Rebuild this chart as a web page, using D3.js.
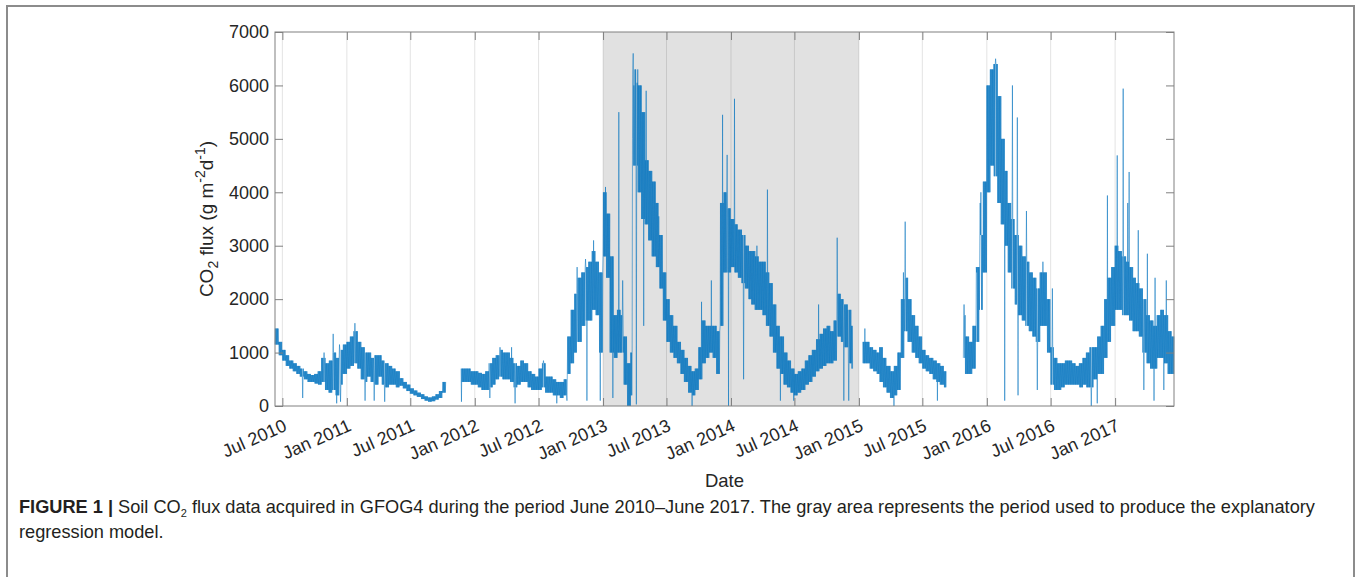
<!DOCTYPE html>
<html>
<head>
<meta charset="utf-8">
<script src="https://cdn.jsdelivr.net/npm/d3@7"></script>
<style>
  body { margin: 0; background: #fff; }
  svg { display: block; font-family: "Liberation Sans", Arial, Helvetica, sans-serif; }
</style>
</head>
<body>
<div id="chart"></div>
<script>
// DATA
// 10-day envelope of the daily flux: per month days 1-10, 11-20, 21-end
// 2010 starts in June, 2017 ends in June
const lo2010 = [1150, 1150, 950, 850, 750, 700, 650, 600, 550, 500, 450, 450, 420, 400, 450, 300, 250, 300, 200, 400, 600];
const hi2010 = [1450, 1450, 1200, 1050, 950, 850, 800, 750, 700, 650, 600, 580, 600, 650, 900, 800, 850, 1000, 900, 1050, 1150];
const lo2011 = [700, 750, 800, 700, 500, 450, 550, 450, 400, 550, 400, 350, 400, 400, 350, 380, 330, 280,
                230, 200, 170, 130, 100, 80, 90, 120, 150, 250, null, null, null, null, 450, 450, 450, 400];
const hi2011 = [1200, 1300, 1400, 1200, 1100, 1000, 1000, 900, 950, 950, 850, 800, 750, 700, 650, 520, 450, 400,
                330, 290, 250, 220, 180, 160, 180, 220, 280, 450, null, null, null, null, 700, 700, 700, 650];
const lo2012 = [400, 350, 300, 300, 350, 400, 500, 550, 500, 500, 450, 350, 400, 450, 450, 350, 300, 300,
                300, 350, 250, 250, 200, 200, 150, 200, 600, 800, 1000, 1200, 1500, 1600, 1600, 1800, 1700, 1000];
const hi2012 = [650, 620, 600, 650, 800, 900, 950, 1050, 1000, 1000, 900, 800, 750, 850, 800, 650, 600, 550,
                700, 800, 550, 550, 500, 450, 450, 500, 1300, 1800, 2100, 2400, 2500, 2600, 2700, 2900, 2700, 2500];
const lo2013 = [2800, 2400, 1000, 900, 1000, 1000, 400, 0, 200, 4500, 4000, 3500, 3400, 3100, 2800, 2600, 2200, 1600,
                1200, 1000, 900, 800, 600, 450, 250, 200, 300, 500, 800, 900, 1000, 900, 600, 1500, 2500, 2500];
const hi2013 = [4000, 3600, 2800, 1700, 1800, 1700, 1300, 800, 1000, 6300, 6000, 5500, 4600, 4400, 4200, 3800, 3200, 2500,
                2000, 1700, 1500, 1200, 1050, 900, 750, 650, 700, 1100, 1600, 1500, 1500, 1500, 1400, 3800, 4000, 3700];
const lo2014 = [2600, 2500, 2400, 2300, 2200, 2000, 1900, 1800, 1800, 1700, 1500, 1300, 1000, 700, 600, 400, 350, 250,
                200, 250, 300, 400, 450, 550, 650, 700, 750, 800, 800, 850, 1300, 1200, 1100, 800, 700, null];
const hi2014 = [3500, 3400, 3300, 3200, 3000, 2900, 2900, 2800, 2700, 2700, 2500, 2300, 1900, 1500, 1300, 1000, 850, 700,
                600, 650, 700, 850, 950, 1050, 1250, 1350, 1450, 1500, 1400, 1600, 2100, 2000, 1900, 1800, 1500, null];
const lo2015 = [null, 800, 800, 700, 650, 600, 450, 350, 250, 150, 200, 300, 900, 1400, 1200, 1000, 900, 800,
                700, 650, 600, 500, 450, 400, 350, null, null, null, null, 900, 600, 600, 700, 1200, 1800, 2500];
const hi2015 = [null, 1200, 1200, 1100, 1050, 1000, 1100, 900, 750, 650, 750, 1000, 2000, 2400, 2000, 1700, 1500, 1300,
                1050, 950, 900, 850, 800, 750, 650, null, null, null, null, 1700, 1300, 1200, 1500, 2600, 3200, 4200];
const lo2016 = [4000, 4500, 4300, 3800, 3400, 3000, 2500, 2200, 1900, 1700, 1600, 1500, 1400, 1300, 1200, 1500, 1500, 1000,
                400, 300, 300, 350, 400, 400, 400, 400, 350, 400, 350, 350, 500, 600, 600, 900, 1200, 1500];
const hi2016 = [6000, 6300, 6400, 5800, 5000, 4400, 3800, 3500, 3200, 3000, 2800, 2700, 2500, 2400, 2200, 2500, 2500, 2000,
                1100, 900, 800, 800, 850, 850, 800, 750, 800, 900, 1000, 1100, 1100, 1300, 1500, 2000, 2400, 2600];
const lo2017 = [1800, 1800, 1700, 1700, 1600, 1400, 1400, 1300, 1000, 800, 700, 700, 900, 900, 800, 600, 600, 600];
const hi2017 = [3000, 2900, 2800, 2700, 2600, 2400, 2300, 2200, 2000, 1700, 1600, 1500, 1700, 1800, 1700, 1400, 1300, 1300];

// single days standing out of the envelope
const spikes = [
  ["2010-08-28", 150], ["2010-10-28", 1000], ["2010-11-23", 1350], ["2010-12-03", 50], ["2010-12-11", 1150], ["2010-12-14", 80],
  ["2011-01-24", 1550], ["2011-02-08", 1200], ["2011-02-22", 100], ["2011-03-20", 100], ["2011-04-19", 80], ["2011-10-12", 1370], ["2011-11-24", 80],
  ["2012-02-13", 150], ["2012-03-13", 1100], ["2012-04-15", 1100], ["2012-04-25", 50], ["2012-07-15", 850], ["2012-08-22", 50], ["2012-09-20", 100],
  ["2012-10-19", 2600], ["2012-11-12", 2750], ["2012-11-16", 100], ["2012-12-05", 3100], ["2012-12-24", 100],
  ["2013-01-08", 4100], ["2013-01-29", 150], ["2013-02-15", 5500], ["2013-02-26", 2350], ["2013-03-20", 0], ["2013-03-26", 5000], ["2013-03-27", 6200],
  ["2013-03-28", 6600], ["2013-03-29", 4500], ["2013-03-30", 6000], ["2013-03-31", 5500], ["2013-04-06", 30], ["2013-04-08", 6050], ["2013-04-27", 1500],
  ["2013-05-04", 5900], ["2013-06-09", 3550], ["2013-09-12", 0], ["2013-10-09", 1950], ["2013-11-06", 2350], ["2013-12-08", 5450], ["2013-12-21", 4700], ["2013-12-25", 0],
  ["2014-01-11", 5750], ["2014-02-06", 500], ["2014-03-16", 3000], ["2014-04-15", 4050], ["2014-05-22", 100], ["2014-06-29", 100], ["2014-09-08", 1900],
  ["2014-10-31", 3150], ["2014-11-19", 100], ["2014-12-03", 100],
  ["2015-01-18", 1450], ["2015-04-11", 0], ["2015-05-08", 2500], ["2015-05-13", 3450], ["2015-08-13", 100], ["2015-10-28", 1900], ["2015-12-03", 2500],
  ["2015-12-13", 3800], ["2015-12-15", 4000],
  ["2016-01-26", 6500], ["2016-02-21", 100], ["2016-03-14", 6000], ["2016-03-28", 5400], ["2016-03-30", 200], ["2016-04-23", 3650], ["2016-05-24", 300],
  ["2016-06-09", 2700], ["2016-07-06", 2200], ["2016-10-25", 0], ["2016-11-11", 50], ["2016-12-10", 3940],
  ["2017-01-07", 4690], ["2017-01-24", 5940], ["2017-02-06", 3800], ["2017-02-10", 4380], ["2017-03-08", 3290], ["2017-03-24", 300], ["2017-04-03", 2850],
  ["2017-04-22", 100], ["2017-04-25", 2400], ["2017-05-20", 300], ["2017-05-27", 2350]
];

const gaps = [["2011-10-13", "2011-11-22"], ["2014-12-15", "2015-01-11"], ["2015-09-08", "2015-10-25"]];
const dataStart = "2010-06-10";
const dataEnd = "2017-06-18";
const shaded = ["2013-01-01", "2015-01-01"];

const tickLabels = ["Jul 2010", "Jan 2011", "Jul 2011", "Jan 2012", "Jul 2012", "Jan 2013", "Jul 2013",
  "Jan 2014", "Jul 2014", "Jan 2015", "Jul 2015", "Jan 2016", "Jul 2016", "Jan 2017"];
const yTicks = [0, 1000, 2000, 3000, 4000, 5000, 6000, 7000];

// LAYOUT
const W = 1358, H = 577;
const margin = { top: 32, right: 184, bottom: 171, left: 275 };
const width = W - margin.left - margin.right;
const height = H - margin.top - margin.bottom;

const parse = d3.utcParse("%Y-%m-%d");
const fmt = d3.utcFormat("%Y-%m-%d");

const svgRoot = d3.select("#chart").append("svg")
    .attr("width", W)
    .attr("height", H);

// figure frame
svgRoot.append("rect")
    .attr("x", 7).attr("y", 6)
    .attr("width", 1347).attr("height", 620)
    .attr("fill", "none")
    .attr("stroke", "#8c8c8c")
    .attr("stroke-width", 2);

const svg = svgRoot.append("g")
    .attr("transform", `translate(${margin.left},${margin.top})`);

// SCALES
const x = d3.scaleUtc()
    .domain([parse(dataStart), parse(dataEnd)])
    .range([0, width]);

const y = d3.scaleLinear()
    .domain([0, 7000])
    .range([height, 0]);

// BUILD DAILY SERIES (alternating between the envelope edges)
const lo = [].concat(lo2010, lo2011, lo2012, lo2013, lo2014, lo2015, lo2016, lo2017);
const hi = [].concat(hi2010, hi2011, hi2012, hi2013, hi2014, hi2015, hi2016, hi2017);
const spikeMap = new Map(spikes);
const gapRanges = gaps.map(g => [parse(g[0]), parse(g[1])]);

const days = d3.utcDay.range(parse(dataStart), d3.utcDay.offset(parse(dataEnd), 1));
const series = days.map((d, i) => {
    const dd = d.getUTCDate();
    const k = (d.getUTCFullYear() - 2010) * 36 + (d.getUTCMonth() - 5) * 3 + (dd <= 10 ? 0 : dd <= 20 ? 1 : 2);
    const inGap = gapRanges.some(g => d >= g[0] && d <= g[1]);
    let v = (inGap || lo[k] == null) ? null : (i % 2 ? hi[k] : lo[k]);
    if (v != null && spikeMap.has(fmt(d))) v = spikeMap.get(fmt(d));
    return { date: d, v: v };
});

// SHADED PERIOD
svg.append("rect")
    .attr("x", x(parse(shaded[0])))
    .attr("y", 0)
    .attr("width", x(parse(shaded[1])) - x(parse(shaded[0])))
    .attr("height", height)
    .attr("fill", "#e1e1e1");

// GRID (x only)
const tickDates = tickLabels.map(t => d3.utcParse("%b %Y")(t));
svg.append("g")
    .selectAll("line")
    .data(tickDates)
    .enter()
    .append("line")
    .attr("x1", d => x(d)).attr("x2", d => x(d))
    .attr("y1", 0).attr("y2", height)
    .attr("stroke", "#262626")
    .attr("stroke-opacity", 0.13)
    .attr("stroke-width", 1);

// LINE
const line = d3.line()
    .defined(d => d.v != null)
    .x(d => x(d.date))
    .y(d => y(d.v));

svg.append("path")
    .datum(series)
    .attr("fill", "none")
    .attr("stroke", "#0072BD")
    .attr("stroke-width", 0.6)
    .attr("stroke-opacity", 0.9)
    .attr("d", line);

// AXES (MATLAB style, ticks pointing inward)
const xAxis = svg.append("g")
    .attr("transform", `translate(0,${height})`)
    .call(d3.axisBottom(x).tickValues(tickDates).tickSizeInner(-8).tickSizeOuter(0).tickFormat((d, i) => tickLabels[i]));

xAxis.selectAll("text")
    .attr("font-size", "18px")
    .attr("fill", "#262626")
    .attr("text-anchor", "end")
    .attr("y", 0)
    .attr("dy", 0)
    .attr("transform", "translate(5,24) rotate(-24)");

svg.append("g")
    .call(d3.axisTop(x).tickValues(tickDates).tickSizeInner(-8).tickSizeOuter(0).tickFormat(""));

const yAxis = svg.append("g")
    .call(d3.axisLeft(y).tickValues(yTicks).tickSizeInner(-8).tickSizeOuter(0).tickPadding(6).tickFormat(d3.format("d")));
yAxis.selectAll("text")
    .attr("font-size", "18px")
    .attr("fill", "#262626");

svg.append("g")
    .attr("transform", `translate(${width},0)`)
    .call(d3.axisRight(y).tickValues(yTicks).tickSizeInner(-8).tickSizeOuter(0).tickFormat(""));

svg.selectAll(".domain").remove();
svg.selectAll(".tick line").attr("stroke", "#808080");

// axes box
svg.append("rect")
    .attr("width", width)
    .attr("height", height)
    .attr("fill", "none")
    .attr("stroke", "#808080")
    .attr("stroke-width", 1);

// AXIS LABELS
svg.append("text")
    .attr("x", width / 2)
    .attr("y", height + 81)
    .attr("text-anchor", "middle")
    .attr("font-size", "18.5px")
    .attr("fill", "#262626")
    .text("Date");

const yLab = svg.append("text")
    .attr("transform", `translate(-62,${height / 2}) rotate(-90)`)
    .attr("text-anchor", "middle")
    .attr("font-size", "19px")
    .attr("fill", "#262626");
yLab.append("tspan").text("CO");
yLab.append("tspan").attr("font-size", "14px").attr("dy", 5).text("2");
yLab.append("tspan").attr("dy", -5).text(" flux (g m");
yLab.append("tspan").attr("font-size", "14px").attr("dy", -8).text("-2");
yLab.append("tspan").attr("dy", 8).text("d");
yLab.append("tspan").attr("font-size", "14px").attr("dy", -8).text("-1");
yLab.append("tspan").attr("dy", 8).text(")");

// CAPTION
const cap1 = svgRoot.append("text")
    .attr("x", 19)
    .attr("y", 513)
    .attr("font-size", "16px")
    .attr("fill", "#231f20");
cap1.append("tspan").attr("font-weight", "bold").text("FIGURE 1 | ");
cap1.append("tspan").text("Soil CO");
cap1.append("tspan").attr("font-size", "11px").attr("dy", 4).text("2");
cap1.append("tspan").attr("dy", -4).text(" flux data acquired in GFOG4 during the period June 2010\u2013June 2017. The gray area represents the period used to produce the explanatory");

const cap2 = svgRoot.append("text")
    .attr("x", 19)
    .attr("y", 538)
    .attr("font-size", "16px")
    .attr("fill", "#231f20")
    .text("regression model.");

// fit caption line to its width in the figure
const capW = cap1.node().getComputedTextLength();
const fs = 16 * 1297 / capW;
cap1.attr("font-size", fs + "px");
cap2.attr("font-size", fs + "px");
</script>
</body>
</html>
